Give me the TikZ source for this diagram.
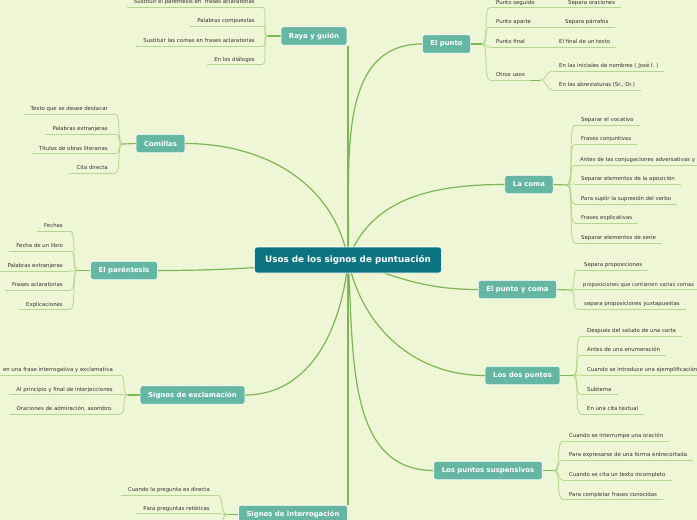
\documentclass[tikz,border=0pt]{standalone}
\usepackage{fontspec}
\setmainfont{DejaVu Sans}
\pgfdeclarelayer{bg}
\pgfdeclarelayer{lines}
\pgfsetlayers{bg,lines,main}
\definecolor{bgc}{HTML}{EEF6D5}
\definecolor{brfill}{HTML}{66B6A4}
\definecolor{cfill}{HTML}{0B7480}
\definecolor{mainln}{HTML}{7DB655}
\definecolor{leafln}{HTML}{B3D78E}
\definecolor{leaftxt}{HTML}{333333}
\tikzset{
 central/.style={fill=cfill, draw=white, line width=0.6pt, rounded corners=2.5pt, text=white,
   font=\bfseries\fontsize{8.8}{10}\selectfont, minimum height=26pt, inner xsep=10.5pt},
 branch/.style={fill=brfill, draw=white, line width=0.6pt, rounded corners=2.5pt, text=white,
   font=\bfseries\fontsize{6.9}{8}\selectfont, minimum height=18.5pt, inner xsep=8pt},
 leafr/.style={anchor=south west, font=\fontsize{5.4}{6}\selectfont, text=leaftxt,
   inner xsep=6pt, inner ysep=2pt, text height=3.9pt, text depth=1.3pt},
 leafl/.style={leafr, anchor=south east, inner xsep=7pt},
 mainline/.style={draw=mainln, line width=1.2pt},
 stem/.style={draw=mainln, line width=1.1pt},
 twig/.style={draw=leafln, line width=0.8pt},
 uline/.style={draw=leafln, line width=0.8pt},
}
\begin{document}
\begin{tikzpicture}[x=1pt,y=1pt]
\useasboundingbox (0,0) rectangle (697,-520);
\begin{pgfonlayer}{bg}
\fill[bgc] (0,0) rectangle (697,-520);
\end{pgfonlayer}

% central and branches
\node[central] (c) at (348,-260) {Usos de los signos de puntuación};
\node[branch] (raya) at (314,-36) {Raya y guión};
\node[branch] (punto) at (446.5,-44) {El punto};
\node[branch] (comillas) at (160.5,-143.5) {Comillas};
\node[branch] (coma) at (529,-184.5) {La coma};
\node[branch] (par) at (124,-270.5) {El paréntesis};
\node[branch] (pyc) at (517.5,-289.5) {El punto y coma};
\node[branch] (dos) at (522.5,-375.5) {Los dos puntos};
\node[branch] (excl) at (192.5,-395) {Signos de exclamación};
\node[branch] (susp) at (488,-470.5) {Los puntos suspensivos};
\node[branch] (inter) at (293,-514.5) {Signos de interrogación};

% junctions
\coordinate (jr) at (268,-36);
\coordinate (jp) at (482,-44);
\coordinate (jp4) at (540,-80);
\coordinate (jc) at (123,-144);
\coordinate (jm) at (567,-185);
\coordinate (ja) at (78,-270.5);
\coordinate (jy) at (570,-290);
\coordinate (jd) at (573,-375.5);
\coordinate (je) at (128,-395);
\coordinate (js) at (554,-470.5);
\coordinate (ji) at (227,-514.5);
\coordinate (i3) at (217,-536);

% leaves: Raya y guion
\node[leafl] (r1) at (262,-7) {Sustituir el paréntesis en\ \ frases aclaratorias};
\node[leafl] (r2) at (262,-26) {Palabras compuestas};
\node[leafl] (r3) at (262,-46) {Sustituir las comas en frases aclaratorias};
\node[leafl] (r4) at (262,-64.5) {En los diálogos};
% El punto
\node[leafr] (p1) at (490,-7.5) {Punto seguido};
\node[leafr] (p2) at (490,-27) {Punto aparte};
\node[leafr] (p3) at (490,-47) {Punto final};
\node[leafr] (p4) at (490,-80) {Otros usos};
\node[leafr] (p1a) at (562,-7.5) {Separa oraciones};
\node[leafr] (p2a) at (559,-27) {Separa párrafos};
\node[leafr] (p3a) at (553,-47) {El final de un texto};
\node[leafr] (p4a) at (553,-71) {En las iniciales de nombres ( José I. )};
\node[leafr] (p4b) at (553,-90) {En las abreviaturas (Sr., Dr.)};
% Comillas
\node[leafl] (c1) at (115,-114) {Texto que se desee destacar};
\node[leafl] (c2) at (115,-134) {Palabras extranjeras};
\node[leafl] (c3) at (115,-153.5) {Títulos de obras literarias};
\node[leafl] (c4) at (115,-173) {Cita directa};
% La coma
\node[leafr] (m1) at (575,-125) {Separar el vocativo};
\node[leafr] (m2) at (575,-144) {Frases conjuntivas};
\node[leafr, inner xsep=5pt] (m3) at (575,-165) {Antes de las conjugaciones adversativas y};
\node[leafr] (m4) at (575,-184) {Separar elementos de la aposición};
\node[leafr] (m5) at (575,-204) {Para suplir la supresión del verbo};
\node[leafr] (m6) at (575,-223) {Frases explicativas};
\node[leafr] (m7) at (575,-243) {Separar elementos de serie};
% El parentesis
\node[leafl] (a1) at (70,-231) {Fechas};
\node[leafl] (a2) at (70,-251) {Fecha de un libro};
\node[leafl] (a3) at (70,-271) {Palabras extranjeras};
\node[leafl] (a4) at (70,-290) {Frases aclaratorias};
\node[leafl] (a5) at (70,-309.5) {Explicaciones};
% El punto y coma
\node[leafr] (y1) at (578,-270) {Separa proposiciones};
\node[leafr, font=\fontsize{5.2}{6}\selectfont, inner xsep=5pt] (y2) at (578,-289.5) {proposiciones que contienen varias comas};
\node[leafr] (y3) at (578,-309) {separa proposiciones yuxtapuestas};
% Los dos puntos
\node[leafr] (d1) at (581,-336) {Después del saludo de una carta};
\node[leafr] (d2) at (581,-355) {Antes de una enumeración};
\node[leafr] (d3) at (581,-375) {Cuando se introduce una ejemplificación};
\node[leafr] (d4) at (581,-394.5) {Subtema};
\node[leafr] (d5) at (581,-414) {En una cita textual};
% Signos de exclamacion
\node[leafl] (e1) at (120,-375) {en una frase interrogativa y exclamativa};
\node[leafl] (e2) at (120,-394.5) {Al principio y final de interjecciones};
\node[leafl] (e3) at (120,-414) {Oraciones de admiración, asombro.};
% Los puntos suspensivos
\node[leafr] (s1) at (563,-441) {Cuando se interrumpe una oración};
\node[leafr] (s2) at (563,-460) {Para expresarse de una forma entrecortada};
\node[leafr] (s3) at (563,-480) {Cuando se cita un texto incompleto};
\node[leafr] (s4) at (563,-499.5) {Para completar frases conocidas};
% Signos de interrogacion
\node[leafl] (i1) at (217,-495) {Cuando la pregunta es directa};
\node[leafl] (i2) at (217,-513.5) {Para preguntas retóricas};

\begin{pgfonlayer}{lines}
% main connectors
\draw[mainline] (c.center) -- (c.center |- raya.south);
\draw[mainline] (c.center) to[out=88,in=180] (punto.west);
\draw[mainline] (c.center) to[out=70,in=180] (coma.west);
\draw[mainline] (c.center) to[out=100,in=0] (comillas.east);
\draw[mainline] (c.center) to[out=185,in=0] (par.east);
\draw[mainline] (c.center) to[out=-20,in=180] (pyc.west);
\draw[mainline] (c.center) to[out=-78,in=180] (dos.west);
\draw[mainline] (c.center) to[out=-95,in=0] (excl.east);
\draw[mainline] (c.center) to[out=-86,in=180] (susp.west);
\draw[mainline] (c.center) -- (c.center |- inter.north);
% stems
\draw[stem] (raya.west) -- (jr);
\draw[stem] (punto.east) -- (jp);
\draw[stem] (comillas.west) -- (jc);
\draw[stem] (coma.east) -- (jm);
\draw[stem] (par.west) -- (ja);
\draw[stem] (pyc.east) -- (jy);
\draw[stem] (dos.east) -- (jd);
\draw[stem] (excl.west) -- (je);
\draw[stem] (susp.east) -- (js);
\draw[stem] (inter.west) -- (ji);
% underlines
\foreach \n in {r1,r2,r3,r4,p1,p2,p3,p4,p1a,p2a,p3a,p4a,p4b,c1,c2,c3,c4,
  m1,m2,m4,m5,m6,m7,a1,a2,a3,a4,a5,y1,y3,d1,d2,d3,d4,d5,e1,e2,e3,
  s1,s2,s3,s4,i1,i2}
  \draw[uline] (\n.south west) -- (\n.south east);
\draw[uline] (m3.south west) -- (m3.south west -| 697,0);
\draw[uline] (y2.south west) -- (y2.south west -| 697,0);
% twigs, left side
\foreach \j/\n in {jr/r1,jr/r2,jr/r3,jr/r4,jc/c1,jc/c2,jc/c3,jc/c4,
  ja/a1,ja/a2,ja/a3,ja/a4,ja/a5,je/e1,je/e2,je/e3,ji/i1,ji/i2}
  \draw[twig] (\j) .. controls +(-7,0) and +(7,0) .. (\n.south east);
\draw[twig] (ji) .. controls +(-7,0) and +(7,0) .. (i3);
% twigs, right side
\foreach \j/\n in {jp/p1,jp/p2,jp/p3,jp/p4,jm/m1,jm/m2,jm/m3,jm/m4,jm/m5,jm/m6,jm/m7,
  jy/y1,jy/y2,jy/y3,jd/d1,jd/d2,jd/d3,jd/d4,jd/d5,js/s1,js/s2,js/s3,js/s4,
  jp4/p4a,jp4/p4b}
  \draw[twig] (\j) .. controls +(7,0) and +(-7,0) .. (\n.south west);
% sub-leaf links
\draw[uline] (p1.south east) -- (p1a.south west);
\draw[uline] (p2.south east) -- (p2a.south west);
\draw[uline] (p3.south east) -- (p3a.south west);
\draw[stem, line width=0.9pt] (p4.south east) -- (jp4);
\end{pgfonlayer}
\end{tikzpicture}
\end{document}
